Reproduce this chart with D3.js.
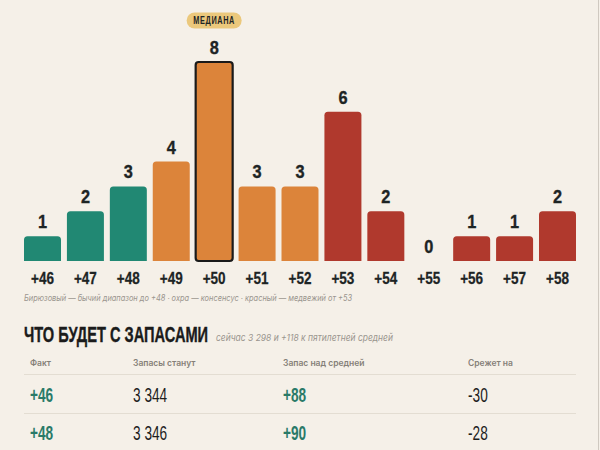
<!DOCTYPE html>
<html><head><meta charset="utf-8">
<script src="https://cdn.jsdelivr.net/npm/d3@7"></script>
<style>
html,body{margin:0;padding:0;background:#f5f0e8;}
svg{display:block;}
</style></head>
<body>
<svg id="chart" width="600" height="450"></svg>
<script>
// ---- data ----
const categories = ["+46","+47","+48","+49","+50","+51","+52","+53","+54","+55","+56","+57","+58"];
const counts     = [1, 2, 3, 4, 8, 3, 3, 6, 2, 0, 1, 1, 2];
const zones      = ["bull","bull","bull","cons","cons","cons","cons","bear","bear","bear","bear","bear","bear"];
const medianCategory = "+50";
const legendText = "Бирюзовый — бычий диапазон до +48 · охра — консенсус · красный — медвежий от +53";
const titleText = "ЧТО БУДЕТ С ЗАПАСАМИ";
const subtitleText = "сейчас 3 298 и +118 к пятилетней средней";
const tableHeaders = ["Факт", "Запасы станут", "Запас над средней", "Срежет на"];
const factCol   = ["+46", "+48"];
const stocksCol = ["3 344", "3 346"];
const overCol   = ["+88", "+90"];
const cutCol    = ["-30", "-28"];

// ---- styles ----
const COND = "'Liberation Sans',Arial,sans-serif";
const SANS = "Inter,Roboto,'Noto Sans',sans-serif";
const colors = {bull:"#218873", cons:"#dc843a", bear:"#b0392d"};
const ink = "#1d2424";

const svg = d3.select("#chart");
svg.append("rect").attr("width",600).attr("height",450).attr("fill","#f5f0e8");
svg.append("line").attr("x1",598.5).attr("x2",598.5).attr("y1",0).attr("y2",450)
   .attr("stroke","#cfc9c0").attr("stroke-width",1);

const x = d3.scaleBand().domain(categories).range([21, 579]).paddingInner(0.138).paddingOuter(0.07);
const y = d3.scaleLinear().domain([0, 8]).range([261, 62]);

function topRounded(x0, y0, w, h, r){
  if (h <= 0) return "";
  r = Math.min(r, h, w/2);
  return `M${x0},${y0+h}V${y0+r}Q${x0},${y0} ${x0+r},${y0}H${x0+w-r}Q${x0+w},${y0} ${x0+w},${y0+r}V${y0+h}Z`;
}
const tr = (px, py, sx) => `translate(${px},${py}) scale(${sx},1)`;

const data = categories.map((c,i)=>({c, v:counts[i], z:zones[i]}));

const g = svg.append("g");
g.selectAll("path.bar").data(data.filter(d=>d.c!==medianCategory)).join("path")
  .attr("class","bar")
  .attr("d", d => topRounded(x(d.c), y(d.v), x.bandwidth(), y(0)-y(d.v), 3.5))
  .attr("fill", d => colors[d.z]);

// median bar with outline
const md = data.find(d=>d.c===medianCategory);
g.append("rect")
  .attr("x", x(md.c)).attr("y", y(md.v))
  .attr("width", x.bandwidth()).attr("height", y(0)-y(md.v))
  .attr("rx", 3).attr("fill", colors[md.z])
  .attr("stroke", "#1a1a1a").attr("stroke-width", 2.2);

// value labels
g.selectAll("text.val").data(data).join("text")
  .attr("class","val")
  .attr("transform", d => tr(x(d.c) + x.bandwidth()/2, y(d.v) - 8, 0.86))
  .attr("text-anchor","middle")
  .attr("font-family", COND).attr("font-weight", 700).attr("font-size", 19)
  .attr("fill", ink).attr("stroke", ink).attr("stroke-width", 0.35)
  .text(d => d.v);

// median badge
const bx = x(md.c) + x.bandwidth()/2;
g.append("rect").attr("x", bx-27.5).attr("y", 12.5).attr("width", 55).attr("height", 16)
  .attr("rx", 8).attr("fill", "#ebc87c");
g.append("text").attr("transform", tr(bx, 24.2, 0.68)).attr("text-anchor","middle")
  .attr("font-family", COND).attr("font-weight",700).attr("font-size",10.8)
  .attr("letter-spacing", 0.9).attr("fill", ink).text("МЕДИАНА");

// x axis
const xAxis = d3.axisBottom(x).tickSize(0).tickPadding(0);
const ax = svg.append("g").attr("transform", `translate(0,${y(0)})`).call(xAxis);
ax.select(".domain").remove();
ax.selectAll("text").attr("dy", null).attr("y", 23.5).attr("transform","scale(0.82,1)")
  .attr("font-family", COND).attr("font-weight",700).attr("font-size",16.5)
  .attr("fill", ink).attr("stroke", ink).attr("stroke-width", 0.25);

// legend caption
svg.append("text").attr("x", 24).attr("y", 301)
  .attr("font-family", SANS).attr("font-style","italic").attr("font-size", 8.4)
  .attr("textLength", 328).attr("lengthAdjust","spacingAndGlyphs")
  .attr("fill", "#9a958e").text(legendText);

// title
svg.append("text").attr("transform", tr(24, 342, 0.68))
  .attr("font-family", COND).attr("font-weight",700).attr("font-size",21.5)
  .attr("fill", "#1b1b1b").attr("stroke", "#1b1b1b").attr("stroke-width", 0.4).text(titleText);
svg.append("text").attr("x", 216).attr("y", 341)
  .attr("font-family", SANS).attr("font-style","italic").attr("font-size", 9.6)
  .attr("textLength", 177).attr("lengthAdjust","spacingAndGlyphs")
  .attr("fill", "#9a958e").text(subtitleText);

// table
const colX = [30, 133, 283, 468];
svg.selectAll("text.th").data(tableHeaders).join("text").attr("class","th")
  .attr("x", (d,i)=>colX[i]).attr("y", 366)
  .attr("font-family", SANS).attr("font-weight",600).attr("font-size",8.5)
  .attr("fill","#858078").text(d=>d);

const rowY = [401.5, 440];
const sepY = [374.5, 413.5];
svg.selectAll("line.sep").data(sepY).join("line").attr("class","sep")
  .attr("x1",24).attr("x2",576).attr("y1",d=>d).attr("y2",d=>d)
  .attr("stroke","#e3ddd2").attr("stroke-width",1.2);

const rows = factCol.map((f,i)=>[f, stocksCol[i], overCol[i], cutCol[i]]);
rows.forEach((r,ri)=>{
  svg.selectAll(`text.row${ri}`).data(r).join("text").attr("class",`row${ri}`)
    .attr("transform", (d,i)=> tr(colX[i], rowY[ri], 0.7))
    .attr("font-family", COND).attr("font-size",19.5)
    .attr("font-weight", (d,i)=> (i===0||i===2) ? 700 : 400)
    .attr("fill", (d,i)=> (i===0||i===2) ? "#2a7a68" : "#1d1d1d")
    .text(d=>d);
});
</script>
</body></html>
